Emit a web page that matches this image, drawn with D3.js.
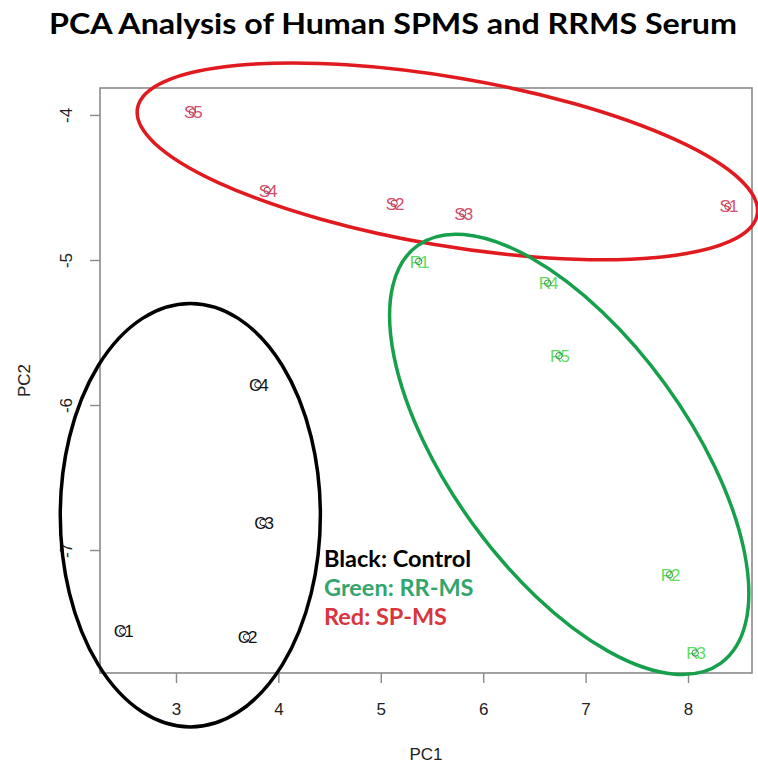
<!DOCTYPE html>
<html>
<head>
<meta charset="utf-8">
<script src="https://cdn.jsdelivr.net/npm/d3@7"></script>
<style>
  body { margin: 0; background: #fff; }
  svg { display: block; }
</style>
</head>
<body>
<div id="chart"></div>
<script>
// samples
var sampleIds = ["S5", "S4", "S2", "S3", "S1", "R1", "R4", "R5", "R2", "R3", "C4", "C3", "C1", "C2"];
var sampleGroup = ["SP", "SP", "SP", "SP", "SP", "RR", "RR", "RR", "RR", "RR", "CT", "CT", "CT", "CT"];
var pc1 = [3.16, 3.89, 5.13, 5.80, 8.39, 5.37, 6.63, 6.74, 7.82, 8.07, 3.80, 3.85, 2.48, 3.69];
var pc2 = [-3.98, -4.52, -4.61, -4.68, -4.63, -5.01, -5.16, -5.66, -7.17, -7.71, -5.86, -6.81, -7.56, -7.60];

var pc1Ticks = [3, 4, 5, 6, 7, 8];
var pc2Ticks = [-4, -5, -6, -7];

// hand drawn group ellipses (centre in PC units, half axes in PC1 / PC2 units, tilt in degrees)
var ellipseGroup = ["SP", "RR", "CT"];
var ellipseCx = [5.65, 6.84, 3.14];
var ellipseCy = [-4.32, -6.34, -6.76];
var ellipseRx = [3.07, 2.52, 1.27];
var ellipseRy = [0.58, 0.82, 1.46];
var ellipseTilt = [9.7, 54, 0];

var legendLines = ["Black: Control", "Green: RR-MS", "Red: SP-MS"];
var legendGroup = ["CT", "RR", "SP"];

var labelColor = {SP: "#d4506a", RR: "#5fdc5f", CT: "#111"};
var ringColor = {SP: "#b03848", RR: "#3c8c4c", CT: "#222"};
var ellipseColor = {SP: "#e01a1e", RR: "#16a04c", CT: "#000"};
var legendColor = {CT: "#000", RR: "#34a56c", SP: "#d8363c"};

var W = 758, H = 766;
var margin = {top: 88, right: 6, bottom: 93, left: 100};
var width = W - margin.left - margin.right;
var height = H - margin.top - margin.bottom;

var svg = d3.select("#chart").append("svg")
  .attr("width", W)
  .attr("height", H);

var x = d3.scaleLinear().domain([2.258, 8.625]).range([margin.left, margin.left + width]);
var y = d3.scaleLinear().domain([-3.814, -7.848]).range([margin.top, margin.top + height]);

// title
svg.append("text")
  .attr("x", 393)
  .attr("y", 34)
  .attr("text-anchor", "middle")
  .attr("textLength", 688)
  .attr("lengthAdjust", "spacingAndGlyphs")
  .style("font-family", "Lato, 'Open Sans', sans-serif")
  .style("font-weight", "bold")
  .style("font-size", "28px")
  .text("PCA Analysis of Human SPMS and RRMS Serum");

// plot box
svg.append("rect")
  .attr("x", margin.left)
  .attr("y", margin.top)
  .attr("width", width)
  .attr("height", height)
  .style("fill", "none")
  .style("stroke", "#8a8a8a")
  .style("stroke-width", 1.6);

// axes
var xAxis = svg.append("g")
  .attr("transform", "translate(0," + (margin.top + height) + ")")
  .call(d3.axisBottom(x).tickValues(pc1Ticks).tickSize(10).tickPadding(20).tickFormat(d3.format("d")));
var yAxis = svg.append("g")
  .attr("transform", "translate(" + margin.left + ",0)")
  .call(d3.axisLeft(y).tickValues(pc2Ticks).tickSize(10).tickFormat(d => "-" + Math.abs(d)));

[xAxis, yAxis].forEach(g => {
  g.select(".domain").remove();
  g.selectAll(".tick line").style("stroke", "#8a8a8a").style("stroke-width", 1.4);
  g.selectAll(".tick text")
    .style("font-family", "'Liberation Sans', Arial, sans-serif")
    .style("font-size", "17px")
    .style("fill", "#222");
});

yAxis.selectAll(".tick text")
  .attr("x", null).attr("dy", null)
  .attr("text-anchor", "middle")
  .attr("dominant-baseline", "central")
  .attr("transform", "translate(-34,0) rotate(-90)");

svg.append("text")
  .attr("x", margin.left + width / 2)
  .attr("y", 760)
  .attr("text-anchor", "middle")
  .style("font-family", "'Liberation Sans', Arial, sans-serif")
  .style("font-size", "17px")
  .style("fill", "#222")
  .text("PC1");

svg.append("text")
  .attr("transform", "translate(30," + (margin.top + height / 2) + ") rotate(-90)")
  .attr("text-anchor", "middle")
  .style("font-family", "'Liberation Sans', Arial, sans-serif")
  .style("font-size", "17px")
  .style("fill", "#222")
  .text("PC2");

// sample labels with the small ring marker
var samples = sampleIds.map((d, i) => ({id: d, group: sampleGroup[i], pc1: pc1[i], pc2: pc2[i]}));

var pts = svg.selectAll(".sample")
  .data(samples)
  .enter().append("g")
  .attr("class", "sample")
  .attr("transform", d => "translate(" + x(d.pc1) + "," + y(d.pc2) + ")");

pts.append("text")
  .attr("text-anchor", "middle")
  .attr("dy", "0.36em")
  .style("font-family", "'Liberation Sans', Arial, sans-serif")
  .style("font-size", "17px")
  .style("letter-spacing", "-2px")
  .style("fill", d => labelColor[d.group])
  .text(d => d.id);

pts.append("circle")
  .attr("r", 3.2)
  .style("fill", "none")
  .style("stroke", d => ringColor[d.group])
  .style("stroke-width", 1);

// group ellipses
var ellipses = ellipseGroup.map((g, i) => ({
  group: g, cx: ellipseCx[i], cy: ellipseCy[i], rx: ellipseRx[i], ry: ellipseRy[i], tilt: ellipseTilt[i]
}));

svg.selectAll(".grp")
  .data(ellipses)
  .enter().append("ellipse")
  .attr("class", "grp")
  .attr("cx", d => x(d.cx))
  .attr("cy", d => y(d.cy))
  .attr("rx", d => x(d.cx + d.rx) - x(d.cx))
  .attr("ry", d => y(d.cy - d.ry) - y(d.cy))
  .attr("transform", d => "rotate(" + d.tilt + "," + x(d.cx) + "," + y(d.cy) + ")")
  .style("fill", "none")
  .style("stroke", d => ellipseColor[d.group])
  .style("stroke-width", 3.5);

// legend text
svg.selectAll(".legend")
  .data(legendLines)
  .enter().append("text")
  .attr("class", "legend")
  .attr("x", 324)
  .attr("y", (d, i) => 567 + i * 29)
  .style("font-family", "Lato, 'Open Sans', sans-serif")
  .style("font-weight", "bold")
  .style("font-size", "23.5px")
  .style("fill", (d, i) => legendColor[legendGroup[i]])
  .text(d => d);
</script>
</body>
</html>
